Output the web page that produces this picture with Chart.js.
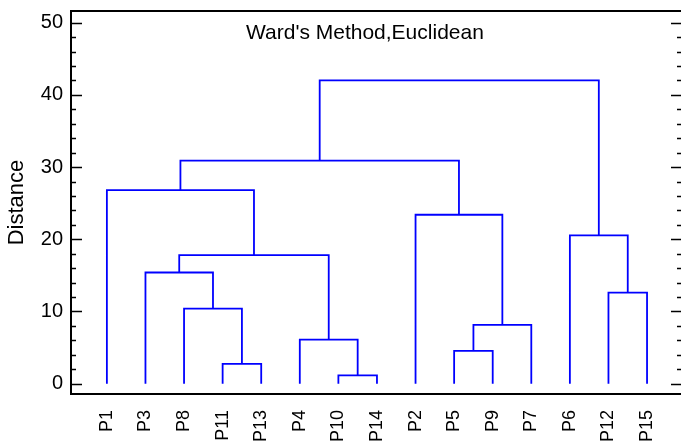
<!DOCTYPE html>
<html>
<head>
<meta charset="utf-8">
<script src="https://cdn.jsdelivr.net/npm/chart.js@4.4.0/dist/chart.umd.min.js"></script>
<style>
    body { margin: 0; background: #fff; }
    #wrap { width: 681px; height: 445px; }
</style>
</head>
<body>
<div id="wrap"><canvas id="dendro" width="681" height="445"></canvas></div>
<script>
// Leaf order along the x axis
const leaves = ['P1', 'P3', 'P8', 'P11', 'P13', 'P4', 'P10', 'P14', 'P2', 'P5', 'P9', 'P7', 'P6', 'P12', 'P15'];

// Merge steps (linkage style): ids < 15 are leaves, 15 + k is the cluster made at step k
const mergeLeft = [6, 3, 9, 5, 17, 2, 13, 1, 22, 12, 8, 0, 26, 27];
const mergeRight = [7, 4, 10, 15, 11, 16, 14, 20, 18, 21, 19, 23, 25, 24];
const mergeHeight = [1.15, 2.75, 4.55, 6.1, 8.15, 10.4, 12.6, 15.4, 17.8, 20.55, 23.4, 26.8, 30.9, 42.0];

// Y axis ticks
const majorStep = 10;
const minorStep = 2;

const FONT = "Arial, 'Liberation Sans', sans-serif";

// Work out x position and height of every node, then one U shape per merge
const nodeX = leaves.map((_, i) => i);
const nodeH = leaves.map(() => 0);
const datasets = [];

mergeHeight.forEach((h, k) => {
    const a = mergeLeft[k];
    const b = mergeRight[k];
    datasets.push({
        data: [
            { x: nodeX[a], y: nodeH[a] },
            { x: nodeX[a], y: h },
            { x: nodeX[b], y: h },
            { x: nodeX[b], y: nodeH[b] }
        ],
        borderColor: '#0000ff',
        borderWidth: 1.8,
        pointRadius: 0,
        fill: false,
        tension: 0
    });
    nodeX.push((nodeX[a] + nodeX[b]) / 2);
    nodeH.push(h);
});

// Frame, inside tick marks and the caption
const framePlugin = {
    id: 'frame',
    afterDraw(chart) {
        const ctx = chart.ctx;
        const area = chart.chartArea;
        const yScale = chart.scales.y;

        ctx.save();
        ctx.strokeStyle = '#000';

        // tick marks on left and right sides
        ctx.lineWidth = 1.5;
        yScale.ticks.forEach(t => {
            const py = Math.round(yScale.getPixelForValue(t.value)) + 0.5;
            const major = Math.abs(t.value % majorStep) < 1e-6;
            ctx.beginPath();
            ctx.moveTo(area.left, py);
            ctx.lineTo(area.left + (major ? 11 : 5), py);
            ctx.moveTo(area.right, py);
            ctx.lineTo(area.right - (major ? 10 : 4), py);
            ctx.stroke();
        });

        // box (right edge falls outside the canvas)
        ctx.lineWidth = 2;
        ctx.beginPath();
        ctx.moveTo(area.left, area.top);
        ctx.lineTo(area.right, area.top);
        ctx.moveTo(area.left, area.top - 1);
        ctx.lineTo(area.left, area.bottom + 1);
        ctx.moveTo(area.left - 1, area.bottom);
        ctx.lineTo(area.right, area.bottom);
        ctx.stroke();

        // caption inside the plot
        ctx.fillStyle = '#000';
        ctx.font = '21px ' + FONT;
        ctx.textAlign = 'left';
        ctx.textBaseline = 'alphabetic';
        ctx.fillText("Ward's Method,Euclidean", 246, 39);
        ctx.restore();
    }
};

new Chart(document.getElementById('dendro'), {
    type: 'line',
    data: { datasets: datasets },
    options: {
        responsive: false,
        animation: false,
        layout: { padding: { top: 11, right: 0, left: 0, bottom: 0 } },
        plugins: {
            legend: { display: false },
            tooltip: { enabled: false }
        },
        scales: {
            x: {
                type: 'linear',
                min: -0.93,
                max: 14.88,
                afterFit: scale => {
                    scale.height = 51;
                    scale.paddingLeft = 0;
                    scale.paddingRight = 0;
                },
                grid: { display: false, drawTicks: false },
                border: { display: false },
                ticks: {
                    stepSize: 1,
                    autoSkip: false,
                    includeBounds: false,
                    minRotation: 90,
                    maxRotation: 90,
                    padding: 16,
                    color: '#000',
                    font: { family: FONT, size: 18 },
                    callback: function(value) {
                        const i = Math.round(value);
                        return Math.abs(value - i) < 1e-6 ? (leaves[i] || '') : '';
                    }
                }
            },
            y: {
                type: 'linear',
                min: -1.43,
                max: 51.62,
                afterFit: scale => {
                    scale.width = 71;
                    scale.paddingTop = 0;
                    scale.paddingBottom = 0;
                },
                grid: { display: false, drawTicks: false },
                border: { display: false },
                title: {
                    display: true,
                    text: 'Distance',
                    color: '#000',
                    font: { family: FONT, size: 22 },
                    padding: { top: 4, bottom: 0 }
                },
                ticks: {
                    stepSize: minorStep,
                    includeBounds: false,
                    autoSkip: false,
                    padding: 8,
                    color: '#000',
                    font: { family: FONT, size: 20 },
                    callback: function(value) {
                        return Math.abs(value % majorStep) < 1e-6 ? String(Math.round(value)) : '';
                    }
                }
            }
        }
    },
    plugins: [framePlugin]
});
</script>
</body>
</html>
